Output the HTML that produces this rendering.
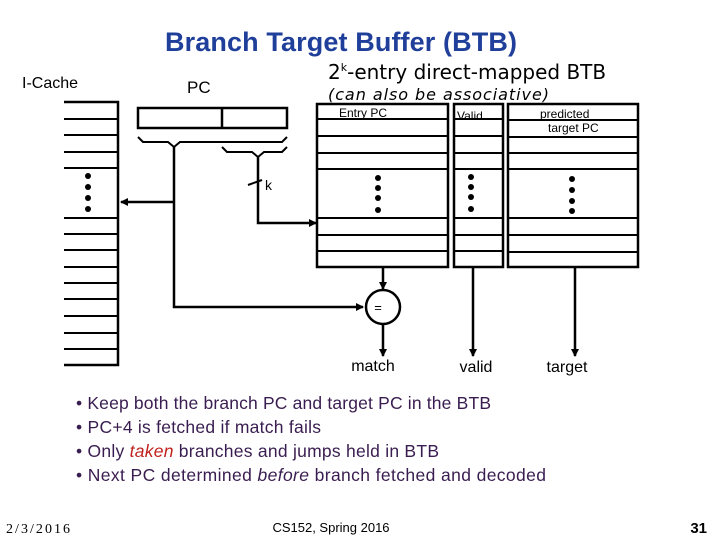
<!DOCTYPE html>
<html><head><style>
body{margin:0;background:#fff;}
svg text{font-family:"Liberation Sans",sans-serif;}
</style></head><body>
<svg width="720" height="540" xmlns="http://www.w3.org/2000/svg">
<defs><marker id="a" markerWidth="8" markerHeight="8" refX="7" refY="4" orient="auto" markerUnits="userSpaceOnUse"><path d="M0,0 L8,4 L0,8z" fill="#000"/></marker></defs>
<text x="341" y="51" text-anchor="middle" font-size="27" font-weight="bold" fill="#1f3f9a" textLength="352">Branch Target Buffer (BTB)</text>
<text x="22" y="88" font-size="16">I-Cache</text>
<text x="187" y="93" font-size="17">PC</text>
<text x="328" y="79" font-size="20" style="font-family:'DejaVu Sans',sans-serif">2<tspan font-size="11" dy="-8">k</tspan><tspan dy="8">-entry direct-mapped BTB</tspan></text>
<text x="328" y="100" font-size="16" font-style="italic" style="font-family:'DejaVu Sans',sans-serif" textLength="221">(can also be associative)</text>
<g stroke="#000" stroke-width="2.5" fill="none">
<path d="M64,102 H118 V365 H64"/>
<path d="M64,119H118M64,135H118M64,152H118M64,168H118M64,218H118M64,234H118M64,250H118M64,267H118M64,283H118M64,299H118M64,316H118M64,333H118M64,349H118" stroke-width="2"/>
<rect x="138" y="108" width="149" height="20"/>
<path d="M222,108V128"/>
<path d="M138,137 L143,142 H168 L174,147 L180,142 H282 L287,137" stroke-width="2"/>
<path d="M222,147 L227,152 H252 L258,157 L264,152 H282 L287,147" stroke-width="2"/>
<path d="M174,147 V307 H363" marker-end="url(#a)"/>
<path d="M174,202 H121" marker-end="url(#a)"/>
<path d="M258,157 V223 H316" marker-end="url(#a)"/>
<path d="M248,185 L262,180" stroke-width="2"/>
<rect x="317" y="104" width="131" height="163"/>
<rect x="454" y="104" width="49" height="163"/>
<rect x="508" y="104" width="130" height="163"/>
<path d="M317,119H448M317,136H448M317,153H448M317,169H448M317,218H448M317,235H448M317,251H448" stroke-width="2"/>
<path d="M454,119H503M454,136H503M454,153H503M454,169H503M454,218H503M454,235H503M454,251H503" stroke-width="2"/>
<path d="M508,120H638M508,137H638M508,153H638M508,169H638M508,218H638M508,235H638M508,252H638" stroke-width="2"/>
<path d="M383,267 V289" marker-end="url(#a)"/>
<circle cx="383" cy="307" r="17"/>
<path d="M383,324 V356" marker-end="url(#a)"/>
<path d="M473,267 V356" marker-end="url(#a)"/>
<path d="M575,267 V356" marker-end="url(#a)"/>
</g>
<g fill="#000">
<circle cx="88" cy="176" r="3"/><circle cx="88" cy="187" r="3"/><circle cx="88" cy="198" r="3"/><circle cx="88" cy="209" r="3"/>
<circle cx="378" cy="178" r="3"/><circle cx="378" cy="188" r="3"/><circle cx="378" cy="198" r="3"/><circle cx="378" cy="210" r="3"/>
<circle cx="471" cy="177" r="3"/><circle cx="471" cy="187" r="3"/><circle cx="471" cy="197" r="3"/><circle cx="471" cy="209" r="3"/>
<circle cx="572" cy="179" r="3"/><circle cx="572" cy="190" r="3"/><circle cx="572" cy="201" r="3"/><circle cx="572" cy="211" r="3"/>
</g>
<text x="265" y="190" font-size="14">k</text>
<text x="378" y="312" font-size="13" text-anchor="middle">=</text>
<g style="font-family:'DejaVu Sans Condensed','DejaVu Sans',sans-serif" font-size="12">
<text x="339" y="117">Entry PC</text>
<text x="457" y="120">Valid</text>
<text x="540" y="118">predicted</text>
<text x="548" y="132">target PC</text>
</g>
<text x="373" y="371" font-size="16" text-anchor="middle">match</text>
<text x="476" y="372" font-size="16" text-anchor="middle">valid</text>
<text x="567" y="372" font-size="16" text-anchor="middle">target</text>
<g font-size="17.5" fill="#3a1d50">
<text x="76" y="409" textLength="415">• Keep both the branch PC and target PC in the BTB</text>
<text x="76" y="433" textLength="245">• PC+4 is fetched if match fails</text>
<text x="76" y="457" textLength="363">• Only <tspan fill="#c0221f" font-style="italic">taken</tspan> branches and jumps held in BTB</text>
<text x="76" y="481" textLength="470">• Next PC determined <tspan font-style="italic">before</tspan> branch fetched and decoded</text>
</g>
<text x="6" y="533" font-size="14" textLength="64" style="font-family:'Liberation Serif',serif">2/3/2016</text>
<text x="331" y="532" font-size="13" text-anchor="middle">CS152, Spring 2016</text>
<text x="707" y="533" font-size="15" font-weight="bold" text-anchor="end">31</text>
</svg>
</body></html>
